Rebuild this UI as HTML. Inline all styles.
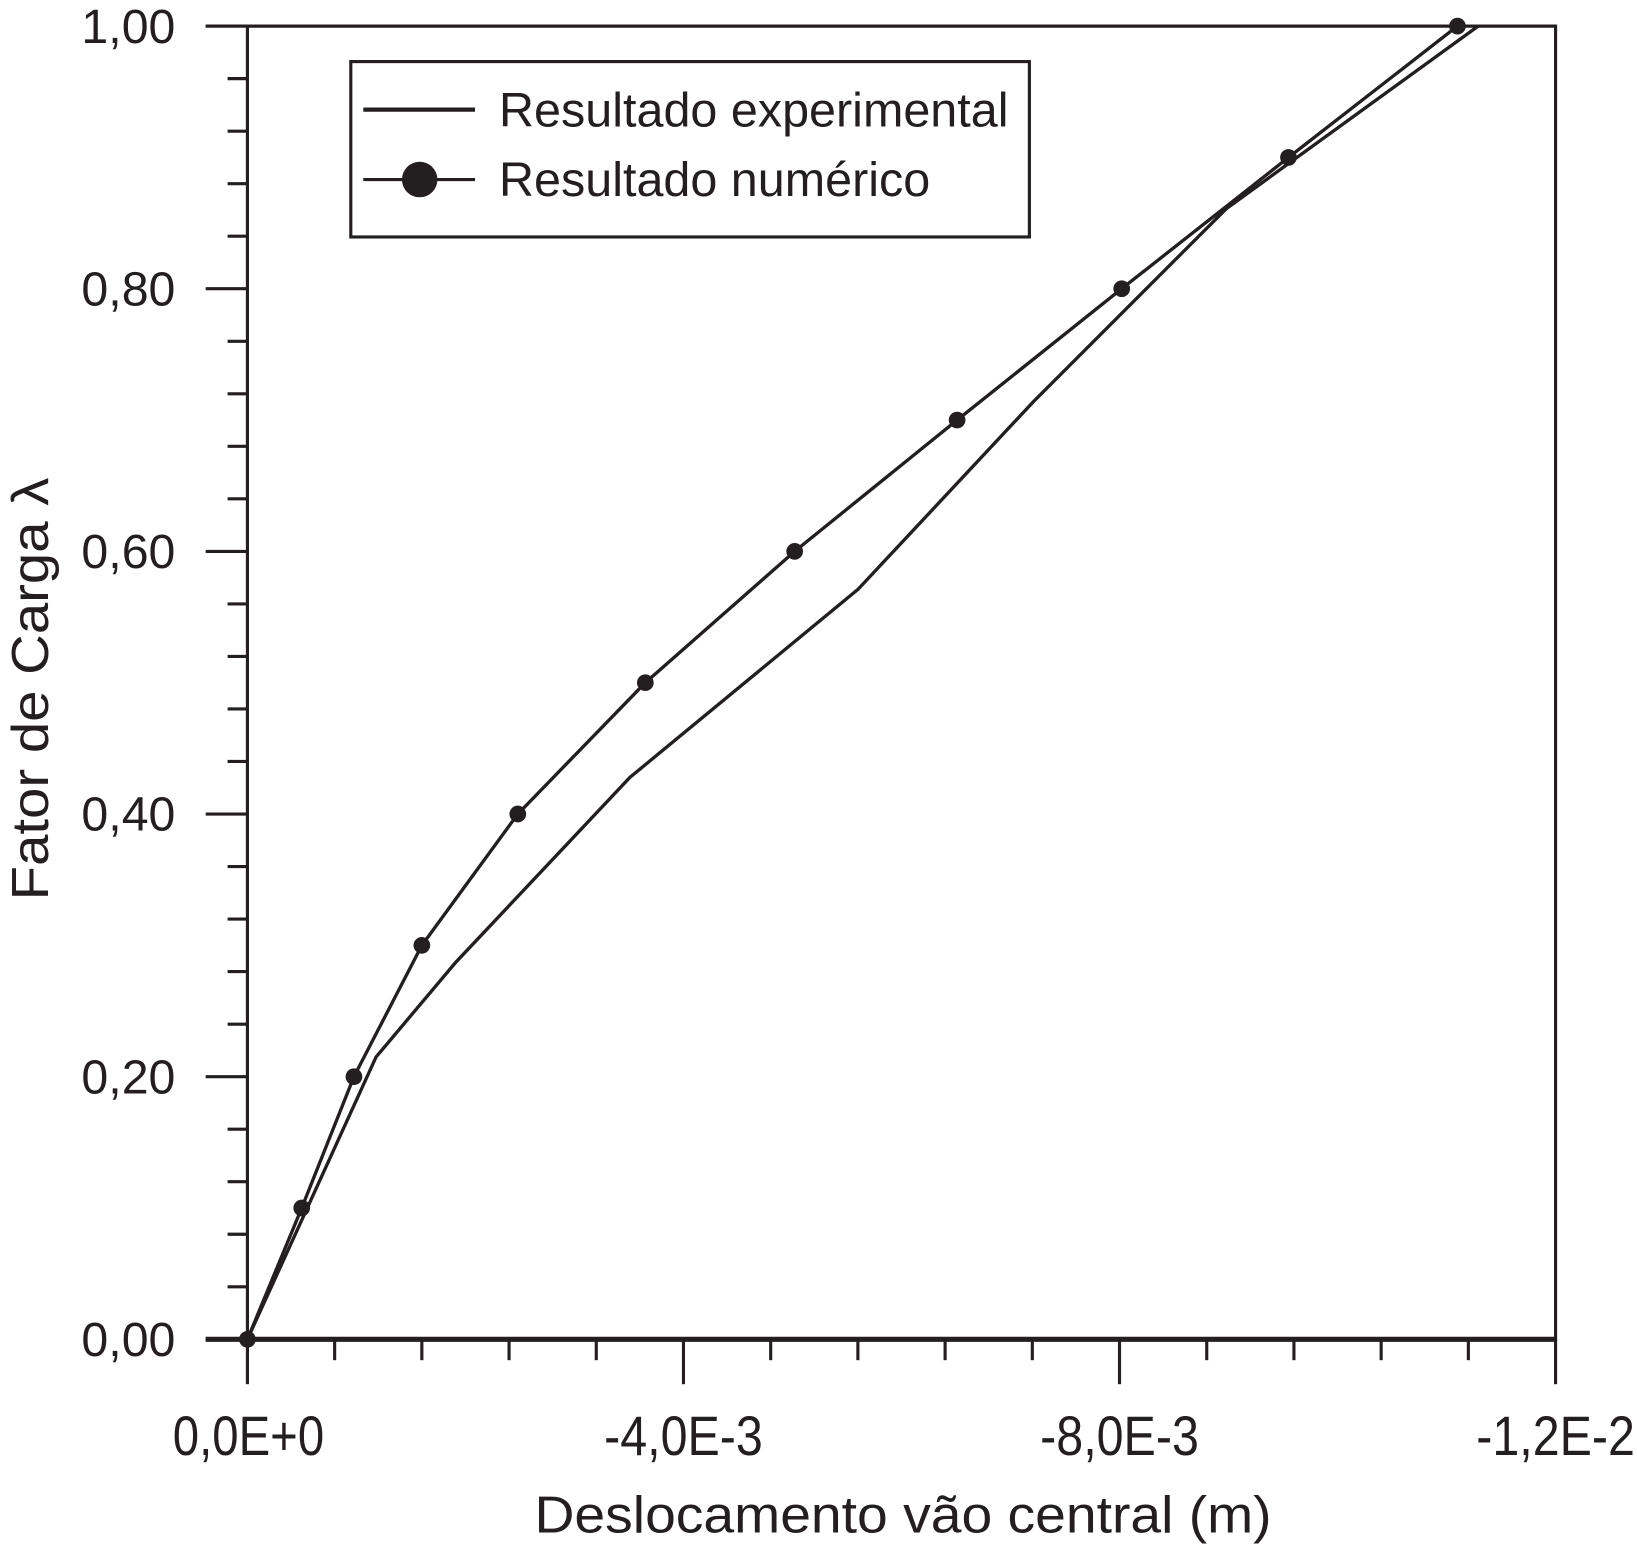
<!DOCTYPE html>
<html><head><meta charset="utf-8"><style>html,body{margin:0;padding:0;background:#fff}svg{display:block}</style></head>
<body>
<svg id="chart" width="1637" height="1546" viewBox="0 0 1568 1481" preserveAspectRatio="none" xmlns="http://www.w3.org/2000/svg" font-family="Liberation Sans, sans-serif" fill="#231f20"></svg>
<script>
const expX = [0, -0.00118, -0.00191, -0.00351, -0.0056, -0.00721, -0.00898, -0.01129];
const expY = [0, 0.215, 0.287, 0.428, 0.571, 0.714, 0.861, 1.0];
const numX = [0, -0.000498, -0.000977, -0.0016, -0.00248, -0.00365, -0.00502, -0.00651, -0.00802, -0.00955, -0.0111];
const numY = [0, 0.1, 0.2, 0.3, 0.4, 0.5, 0.6, 0.7, 0.8, 0.9, 1.0];
const xTickVals = [0, -0.004, -0.008, -0.012];
const xTickLabels = ["0,0E+0", "-4,0E-3", "-8,0E-3", "-1,2E-2"];
const yTickVals = [0, 0.2, 0.4, 0.6, 0.8, 1.0];
const yTickLabels = ["0,00", "0,20", "0,40", "0,60", "0,80", "1,00"];

const L=237,R=1490,T=25,B=1283;
const sx=v=>L+(v/-0.012)*(R-L);
const sy=v=>B-v*(B-T);
const svg=document.getElementById('chart');
const NS='http://www.w3.org/2000/svg';
function mk(tag,attrs,parent){const e=document.createElementNS(NS,tag);for(const k in attrs)e.setAttribute(k,attrs[k]);(parent||svg).appendChild(e);return e;}
const ink='#231f20';

const frame=mk('rect',{x:L,y:T,width:R-L,height:B-T,fill:'none',stroke:ink,'stroke-width':3});


const xaxis=mk('line',{x1:197,y1:B,x2:R,y2:B,stroke:ink,'stroke-width':5});


const topline=mk('line',{x1:197,y1:T,x2:R,y2:T,stroke:ink,'stroke-width':3});



for(let i=0;i<=15;i++){const v=-0.012*i/15;const x=sx(v);const major=i%5===0;
 const t=mk('line',{x1:x,y1:B,x2:x,y2:major?1326:1303,stroke:ink,'stroke-width':3});
 
 }
xTickVals.forEach((v,i)=>{const w=xTickLabels[i].length===6?145:152;const t=mk('text',{x:sx(v)+(i===0?1:0),y:1394,'font-size':53,'text-anchor':'middle',textLength:w,lengthAdjust:'spacingAndGlyphs'});t.textContent=xTickLabels[i];
 
 });
for(let i=0;i<=25;i++){const v=i*0.04;const y=sy(v);const major=i%5===0;
 const t=mk('line',{x1:major?197:218,y1:y,x2:L,y2:y,stroke:ink,'stroke-width':3});
 
 }
yTickVals.forEach((v,i)=>{const t=mk('text',{x:168,y:sy(v)+16,'font-size':46,'text-anchor':'end',textLength:90,lengthAdjust:'spacingAndGlyphs'});t.textContent=yTickLabels[i];
 
 });

const xt=mk('text',{x:865,y:1468,'font-size':50,'text-anchor':'middle',textLength:706,lengthAdjust:'spacingAndGlyphs'});xt.textContent='Deslocamento vão central (m)';


const yt=mk('text',{x:0,y:0,'font-size':50,'text-anchor':'middle',textLength:405,lengthAdjust:'spacingAndGlyphs',transform:'translate(46,660) rotate(-90)'});yt.textContent='Fator de Carga λ';



const ep=mk('polyline',{points:expX.map((v,i)=>sx(v)+','+sy(expY[i])).join(' '),fill:'none',stroke:ink,'stroke-width':3.2});


const np=mk('polyline',{points:numX.map((v,i)=>sx(v)+','+sy(numY[i])).join(' '),fill:'none',stroke:ink,'stroke-width':3.2});


numX.forEach((v,i)=>{const c=mk('circle',{cx:sx(v),cy:sy(numY[i]),r:8,fill:ink});
 
 });

const lg=mk('g',{});


mk('rect',{x:336,y:59,width:650,height:168,fill:'#fff',stroke:ink,'stroke-width':3},lg);
mk('line',{x1:348,y1:105,x2:455,y2:105,stroke:ink,'stroke-width':4},lg);
const t1=mk('text',{x:478,y:121,'font-size':46,textLength:488,lengthAdjust:'spacingAndGlyphs'},lg);t1.textContent='Resultado experimental';


mk('line',{x1:348,y1:172,x2:455,y2:172,stroke:ink,'stroke-width':3},lg);
mk('circle',{cx:402,cy:172,r:17,fill:ink},lg);
const t2=mk('text',{x:478,y:188,'font-size':46,textLength:413,lengthAdjust:'spacingAndGlyphs'},lg);t2.textContent='Resultado numérico';


</script>
</body></html>
